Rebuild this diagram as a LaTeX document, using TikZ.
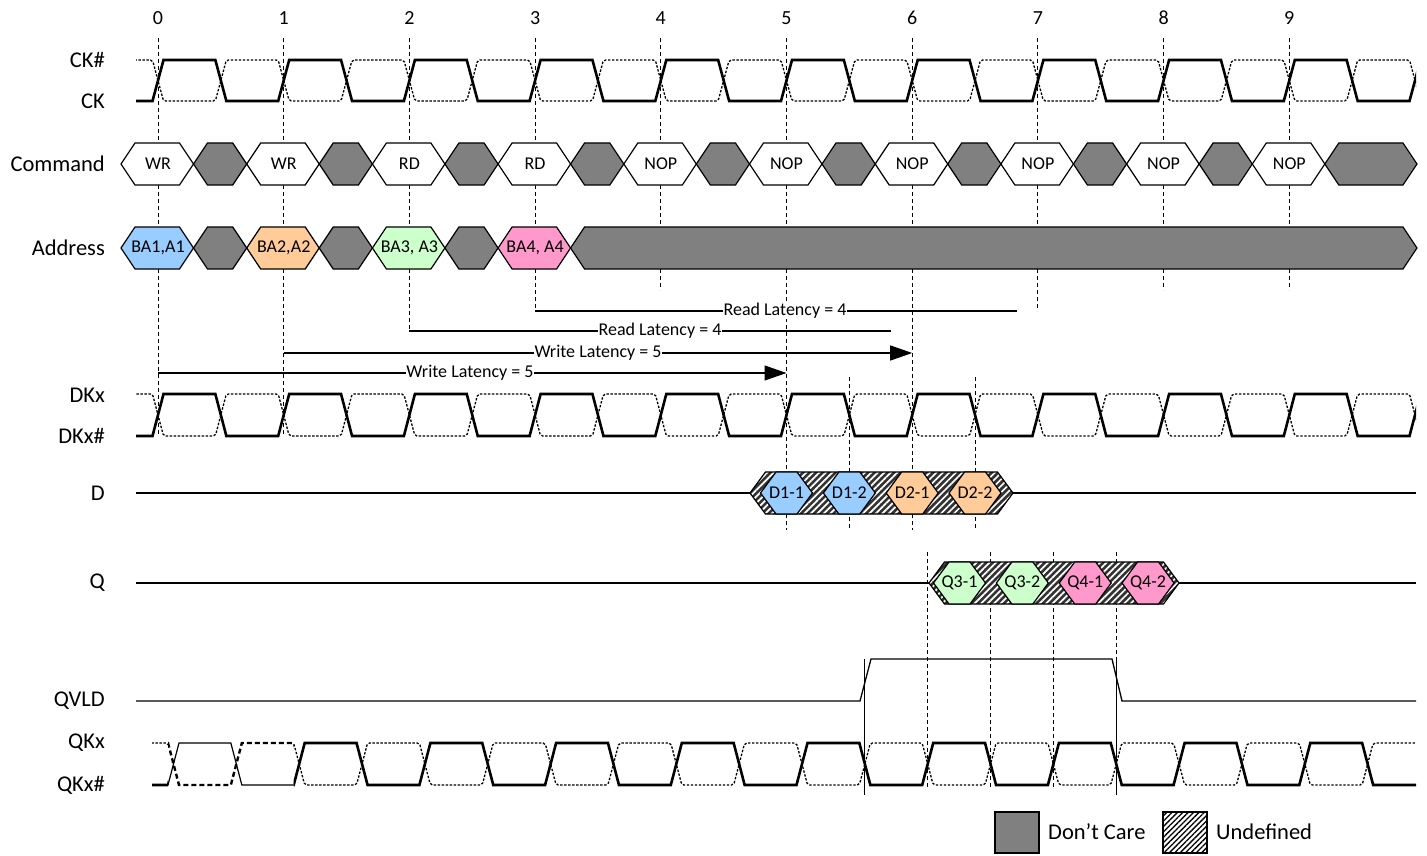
\documentclass[tikz,border=0pt]{standalone}
\usepackage{fontspec}
\setmainfont{Carlito}
\usetikzlibrary{arrows.meta,patterns.meta}
\definecolor{dcgray}{HTML}{808080}
\definecolor{hatchdark}{HTML}{333333}
\definecolor{cblue}{HTML}{99CCFF}
\definecolor{corange}{HTML}{FFCC99}
\definecolor{cgreen}{HTML}{CCFFCC}
\definecolor{cpink}{HTML}{FF99CC}
\def\Tper{125.7}
\def\tdel{5.5}
\newcommand\hexshape[6]{%
  \path[#6] (#1,#3) -- ({#1+#5},{#3-#4}) -- ({#2-#5},{#3-#4}) -- (#2,#3)
    -- ({#2-#5},{#3+#4}) -- ({#1+#5},{#3+#4}) -- cycle;}
\newcommand\hatchhex[5]{%
  \hexshape{#1}{#2}{#3}{#4}{#5}{fill=hatchdark}
  \hexshape{#1}{#2}{#3}{#4}{#5}{pattern={Lines[angle=45,distance=4.6pt,line width=1.7pt]},pattern color=white}
  \hexshape{#1}{#2}{#3}{#4}{#5}{draw,line width=1.2pt}}
% #1 phase (rising edge x of k=0), #2 level before rise, #3 level after rise, #4 style
\newcommand\clockwave[4]{%
  \draw[#4] (100,#2) \foreach \k in {-1,...,10} {
    -- ({#1+\k*\Tper-\tdel},#2) -- ({#1+\k*\Tper+\tdel},#3)
    -- ({#1+(\k+0.5)*\Tper-\tdel},#3) -- ({#1+(\k+0.5)*\Tper+\tdel},#2) };}
\tikzset{
  lbl/.style={anchor=east,font=\fontsize{22.5}{24}\selectfont,inner sep=0pt},
  ticknum/.style={font=\fontsize{20}{22}\selectfont,inner sep=0pt},
  hextxt/.style={font=\fontsize{18}{20}\selectfont,inner sep=0pt},
  lattxt/.style={font=\fontsize{18}{20}\selectfont,fill=white,inner sep=0.6pt},
  clk/.style={line width=2.6pt,line join=miter},
  clkdot/.style={line width=1.3pt,dash pattern=on 2.4pt off 1.6pt,rounded corners=2pt},
  clkthin/.style={line width=1.2pt},
  clkbdash/.style={line width=2.4pt,dash pattern=on 5pt off 3pt},
  grid/.style={line width=1pt,dash pattern=on 4pt off 3pt},
  sig/.style={line width=1.3pt},
  cellw/.style={draw,line width=1.2pt,fill=white},
  cellg/.style={draw,line width=1.2pt,fill=dcgray},
  latline/.style={line width=1.3pt},
  latarrow/.style={line width=1.3pt,-{Triangle[length=22pt,width=15pt]}},
}
\begin{document}
\begin{tikzpicture}[x=1pt,y=-1pt]
\useasboundingbox (0,0) rectangle (1427,856);
% tick numbers and grid lines
\foreach \i/\yend in {0/436,1/436,2/331,3/311,4/290,5/530,6/530,7/311,8/290,9/290} {
  \pgfmathsetmacro\tx{158+\i*\Tper}
  \node[ticknum] (tick\i) at (\tx,18) {\i};
  \draw[grid] (\tx,38) -- (\tx,\yend);
}
\foreach \xx in {849.4,975.1} { \draw[grid] (\xx,377) -- (\xx,530); }
\foreach \xx in {927.7,990.5,1053.4,1116.2} { \draw[grid] (\xx,552) -- (\xx,787); }
\draw[sig] (864.8,659) -- (864.8,795);
\draw[sig] (1116.2,659) -- (1116.2,795);
% labels
\node[lbl] (lckn) at (105,60) {CK\#};
\node[lbl] (lck) at (105,101) {CK};
\node[lbl] (lcmd) at (105,164) {Command};
\node[lbl] (ladr) at (105,248) {Address};
\node[lbl] (ldk) at (105,395) {DKx};
\node[lbl] (ldkn) at (105,436) {DKx\#};
\node[lbl] (ld) at (105,493) {D};
\node[lbl] (lq) at (105,583) {Q};
\node[lbl] (lqv) at (105,701) {QVLD};
\node[lbl] (lqk) at (105,743) {QKx};
\node[lbl] (lqkn) at (105,785) {QKx\#};
% CK clocks
\begin{scope}
  \clip (136,0) rectangle (1416,856);
  \clockwave{158}{60}{101}{clkdot}
  \clockwave{158}{101}{60}{clk}
\end{scope}
% DK clocks
\begin{scope}
  \clip (136,0) rectangle (1416,856);
  \clockwave{158}{394}{436}{clkdot}
  \clockwave{158}{436}{394}{clk}
\end{scope}
% QK clocks
\begin{scope}
  \clip (152,0) rectangle (168,856) (293.7,0) rectangle (1416,856);
  \clockwave{173.5}{743}{785}{clkdot}
  \clockwave{173.5}{785}{743}{clk}
\end{scope}
\begin{scope}
  \clip (168,0) rectangle (293.7,856);
  \clockwave{173.5}{743}{785}{clkbdash}
  \clockwave{173.5}{785}{743}{clkthin}
\end{scope}
% Command row
\foreach \i/\txt in {0/WR,1/WR,2/RD,3/RD,4/NOP,5/NOP,6/NOP,7/NOP,8/NOP,9/NOP} {
  \pgfmathsetmacro\tx{158+\i*\Tper}
  \hexshape{\tx-37}{\tx+35.5}{164}{21}{14}{cellw}
  \node[hextxt] (cmd\i) at (\tx,164) {\txt};
}
\foreach \i in {0,...,8} {
  \pgfmathsetmacro\tx{158+\i*\Tper}
  \hexshape{\tx+35.5}{\tx+\Tper-37}{164}{21}{14}{cellg}
}
\hexshape{158+9*\Tper+35.5}{1417}{164}{21}{14}{cellg}
% Address row
\foreach \i/\txt/\col in {0/{BA1,A1}/cblue,1/{BA2,A2}/corange,2/{BA3, A3}/cgreen,3/{BA4, A4}/cpink} {
  \pgfmathsetmacro\tx{158+\i*\Tper}
  \hexshape{\tx-37}{\tx+35.5}{248}{21}{14}{draw,line width=1.2pt,fill=\col}
  \node[hextxt] (adr\i) at (\tx,248) {\txt};
}
\foreach \i in {0,1,2} {
  \pgfmathsetmacro\tx{158+\i*\Tper}
  \hexshape{\tx+35.5}{\tx+\Tper-37}{248}{21}{14}{cellg}
}
\hexshape{158+3*\Tper+35.5}{1417}{248}{21}{14}{cellg}
% latency arrows
\coordinate (r3s) at (535.1,311); \coordinate (r3e) at (1017,311);
\coordinate (r2s) at (409.4,331); \coordinate (r2e) at (891,331);
\coordinate (w1s) at (283.7,353); \coordinate (w1e) at (912.2,353);
\coordinate (w0s) at (158,373);   \coordinate (w0e) at (786.5,373);
\draw[latline] (r3s) -- (r3e);
\draw[latline] (r2s) -- (r2e);
\draw[latarrow] (w1s) -- (w1e);
\draw[latarrow] (w0s) -- (w0e);
\node[lattxt] (tr3) at (785,311) {Read Latency = 4};
\node[lattxt] (tr2) at (660,331) {Read Latency = 4};
\node[lattxt] (tw1) at (598,353) {Write Latency = 5};
\node[lattxt] (tw0) at (470,373) {Write Latency = 5};
% D row
\draw[sig] (136,493) -- (750,493);
\draw[sig] (1013,493) -- (1416,493);
\hatchhex{750}{1013}{493}{21}{15.5}
\foreach \j/\txt/\col in {0/D1-1/cblue,1/D1-2/cblue,2/D2-1/corange,3/D2-2/corange} {
  \pgfmathsetmacro\cx{786.5+\j*\Tper/2}
  \hexshape{\cx-26}{\cx+26}{493}{21}{15.5}{draw,line width=1.2pt,fill=\col}
  \node[hextxt] (d\j) at (\cx,493) {\txt};
}
% Q row
\draw[sig] (136,583) -- (929,583);
\draw[sig] (1179,583) -- (1416,583);
\hatchhex{929}{1179}{583}{21}{15.5}
\foreach \j/\txt/\col in {0/Q3-1/cgreen,1/Q3-2/cgreen,2/Q4-1/cpink,3/Q4-2/cpink} {
  \pgfmathsetmacro\cx{959.5+\j*\Tper/2}
  \hexshape{\cx-26}{\cx+26}{583}{21}{15.5}{draw,line width=1.2pt,fill=\col}
  \node[hextxt] (q\j) at (\cx,583) {\txt};
}
% QVLD
\draw[sig] (136,701) -- (860,701) -- (871,659) -- (1112,659) -- (1122,701) -- (1416,701);
% legend
\draw[line width=1.2pt,fill=dcgray] (995,812) rectangle (1039,853);
\node[anchor=west,font=\fontsize{22.5}{24}\selectfont,inner sep=0pt] (ldc) at (1048,832) {Don’t Care};
\fill[white] (1163,812) rectangle (1207,853);
\fill[pattern={Lines[angle=45,distance=3.8pt,line width=1.3pt]},pattern color=black] (1163,812) rectangle (1207,853);
\draw[line width=1.2pt] (1163,812) rectangle (1207,853);
\node[anchor=west,font=\fontsize{22.5}{24}\selectfont,inner sep=0pt] (lun) at (1216,832) {Undefined};
\end{tikzpicture}
\end{document}
